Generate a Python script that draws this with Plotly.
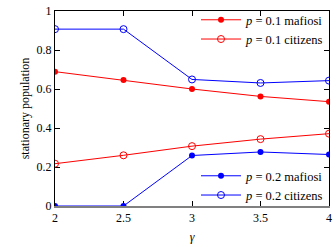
import plotly.graph_objects as go

gamma = [2, 2.5, 3, 3.5, 4]
maf_01 = [0.689, 0.646, 0.600, 0.562, 0.535]
cit_01 = [0.217, 0.260, 0.307, 0.343, 0.371]
maf_02 = [0.0, 0.0, 0.259, 0.277, 0.264]
cit_02 = [0.907, 0.907, 0.649, 0.631, 0.643]
xticks = [2, 2.5, 3, 3.5, 4]
xtick_labels = ["2", "2.5", "3", "3.5", "4"]
yticks = [0, 0.2, 0.4, 0.6, 0.8, 1]
ytick_labels = ["0", "0.2", "0.4", "0.6", "0.8", "1"]

RED = "#ff0000"
BLUE = "#0000ff"
FONT = "'Liberation Serif', 'DejaVu Serif', serif"

fig = go.Figure()
fig.add_trace(go.Scatter(x=gamma, y=maf_01, mode="lines+markers", name="<i>p</i> = 0.1 mafiosi",
                         line=dict(color=RED, width=1), marker=dict(color=RED, size=6, symbol="circle"),
                         legend="legend"))
fig.add_trace(go.Scatter(x=gamma, y=cit_01, mode="lines+markers", name="<i>p</i> = 0.1 citizens",
                         line=dict(color=RED, width=1),
                         marker=dict(color=RED, size=7, symbol="circle-open", line=dict(width=1)),
                         legend="legend"))
fig.add_trace(go.Scatter(x=gamma, y=maf_02, mode="lines+markers", name="<i>p</i> = 0.2 mafiosi",
                         line=dict(color=BLUE, width=1), marker=dict(color=BLUE, size=6, symbol="circle"),
                         legend="legend2"))
fig.add_trace(go.Scatter(x=gamma, y=cit_02, mode="lines+markers", name="<i>p</i> = 0.2 citizens",
                         line=dict(color=BLUE, width=1),
                         marker=dict(color=BLUE, size=7, symbol="circle-open", line=dict(width=1)),
                         legend="legend2"))
# invisible trace to show top axis ticks
fig.add_trace(go.Scatter(x=[2, 4], y=[0, 0], xaxis="x2", mode="none", showlegend=False, hoverinfo="skip"))

fig.update_layout(
    width=336, height=247,
    margin=dict(l=55, r=4, t=5, b=41),
    paper_bgcolor="white", plot_bgcolor="white",
    font=dict(family=FONT, size=12, color="black"),
    xaxis=dict(range=[2, 4], tickvals=xticks, ticktext=xtick_labels, ticks="inside", ticklen=5,
               tickcolor="black", showline=True, linecolor="#808080", linewidth=2, mirror=False,
               showgrid=False, zeroline=False, title=dict(text="<i>γ</i>", standoff=8,
                                                          font=dict(family=FONT, size=12)),
               tickfont=dict(family=FONT, size=12), layer="below traces"),
    xaxis2=dict(range=[2, 4], overlaying="x", side="top", tickvals=xticks, ticks="inside", ticklen=5,
                tickcolor="black", showticklabels=False, showline=True, linecolor="black", linewidth=1,
                showgrid=False, zeroline=False),
    yaxis=dict(range=[0, 1], tickvals=yticks, ticktext=ytick_labels, ticks="inside", ticklen=5,
               tickcolor="black", showline=True, linecolor="black", linewidth=1, mirror="ticks",
               showgrid=False, zeroline=False,
               title=dict(text="stationary population", standoff=4, font=dict(family=FONT, size=12)),
               tickfont=dict(family=FONT, size=12), layer="below traces"),
    legend=dict(x=1.0, y=1.03, xanchor="right", yanchor="top", bgcolor="rgba(0,0,0,0)",
                font=dict(family=FONT, size=12.5), tracegroupgap=0, itemwidth=40),
    legend2=dict(x=1.0, y=0.23, xanchor="right", yanchor="top", bgcolor="rgba(0,0,0,0)",
                 font=dict(family=FONT, size=12.5), tracegroupgap=0, itemwidth=40),
    showlegend=True,
)

fig.write_html("out.html", config={"displayModeBar": False},
               post_script="document.body.style.margin='0';")
